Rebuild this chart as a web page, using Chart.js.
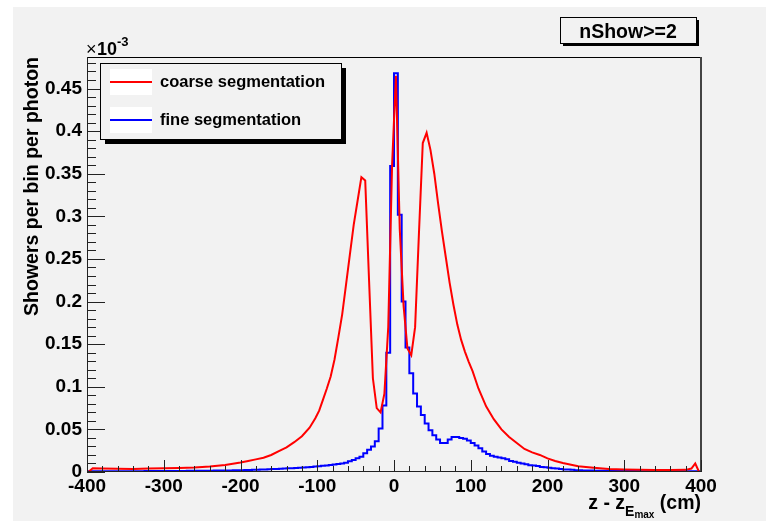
<!DOCTYPE html>
<html>
<head>
<meta charset="utf-8">
<script src="https://cdn.jsdelivr.net/npm/chart.js@4.4.1/dist/chart.umd.min.js"></script>
<style>
  html, body { margin: 0; padding: 0; background: #fff; }
  canvas { display: block; }
</style>
</head>
<body>
<canvas id="zChart" width="766" height="521"></canvas>
<script>
// --- Dados (em unidades de 1e-3) ---
const seriesNames = ["coarse segmentation", "fine segmentation"];
const seriesColors = ["#ff0000", "#0000ff"];

// coarse: polyline through points
const coarseX = [-397.5, -392.5, -380, -360, -340, -320, -300, -280, -260, -240, -220, -200, -190, -180, -170, -160, -150, -140, -130, -120, -110,
  -102.5, -97.5, -92.5, -87.5, -82.5, -77.5, -72.5, -67.5, -62.5, -57.5, -52.5, -47.5, -42.5, -37.5, -32.5, -27.5, -22.5, -17.5, -12.5, -7.5, -2.5,
  2.5, 7.5, 12.5, 17.5, 22.5, 27.5, 32.5, 37.5, 42.5, 47.5, 52.5, 57.5, 62.5, 67.5, 72.5, 77.5, 82.5, 87.5, 92.5, 97.5, 102.5,
  110, 120, 130, 140, 150, 160, 170, 180, 190, 200, 210, 220, 240, 260, 280, 300, 320, 340, 360, 380, 387.5, 392.5, 397.5];
const coarseY = [0.0005, 0.0045, 0.0042, 0.0038, 0.0036, 0.004, 0.0043, 0.0047, 0.0054, 0.0065, 0.0083, 0.0112, 0.013, 0.0148, 0.0168, 0.020, 0.0245, 0.029, 0.035, 0.042, 0.052,
  0.063, 0.072, 0.085, 0.098, 0.112, 0.132, 0.158, 0.185, 0.220, 0.255, 0.290, 0.318, 0.346, 0.342, 0.225, 0.110, 0.075, 0.070, 0.092, 0.170, 0.360,
  0.465, 0.285, 0.195, 0.145, 0.137, 0.170, 0.280, 0.386, 0.398, 0.378, 0.350, 0.315, 0.282, 0.252, 0.222, 0.196, 0.173, 0.155, 0.141, 0.129, 0.118,
  0.098, 0.077, 0.062, 0.050, 0.041, 0.034, 0.027, 0.023, 0.020, 0.016, 0.013, 0.0105, 0.0068, 0.005, 0.0036, 0.003, 0.0026, 0.0024, 0.0024, 0.0025, 0.004, 0.010, 0.0];

// fine: histogram, 5 cm bins from -400 to 400
const fineStart = -400;
const fineBinWidth = 5;
const fineY = [
  0.0008, 0.0008, 0.0008, 0.0008, 0.0008, 0.0009, 0.0009, 0.0009, 0.0009, 0.0009,
  0.001, 0.001, 0.001, 0.001, 0.001, 0.0011, 0.0011, 0.0011, 0.0011, 0.0011,
  0.0012, 0.0012, 0.0012, 0.0013, 0.0013, 0.0013, 0.0014, 0.0014, 0.0014, 0.0015,
  0.0015, 0.0016, 0.0016, 0.0017, 0.0017, 0.0018, 0.0019, 0.0019, 0.002, 0.0021,
  0.0022, 0.0023, 0.0024, 0.0026, 0.0027, 0.0029, 0.003, 0.0032, 0.0034, 0.0036,
  0.0038, 0.004, 0.0043, 0.0045, 0.0048, 0.005, 0.0053, 0.0056, 0.006, 0.0064,
  0.0068, 0.0072, 0.0077, 0.0082, 0.0088, 0.0094, 0.010, 0.011, 0.0125, 0.014,
  0.016, 0.018, 0.022, 0.026, 0.030, 0.036, 0.051, 0.078, 0.140, 0.359,
  0.468, 0.302, 0.200, 0.146, 0.116, 0.092, 0.077, 0.067, 0.057, 0.049,
  0.043, 0.038, 0.034, 0.034, 0.038, 0.041, 0.041, 0.040, 0.039, 0.037,
  0.034, 0.031, 0.028, 0.024, 0.021, 0.019, 0.018, 0.017, 0.016, 0.015,
  0.013, 0.012, 0.011, 0.010, 0.009, 0.008, 0.0075, 0.007, 0.006, 0.0055,
  0.005, 0.0045, 0.004, 0.0035, 0.003, 0.0028, 0.0025, 0.0022, 0.002, 0.0019,
  0.0018, 0.0017, 0.0016, 0.0015, 0.0014, 0.0014, 0.0013, 0.0013, 0.0012, 0.0012,
  0.0012, 0.0011, 0.0011, 0.0011, 0.001, 0.001, 0.001, 0.001, 0.001, 0.001,
  0.0009, 0.0009, 0.0009, 0.0009, 0.0009, 0.0008, 0.0008, 0.0008, 0.0008, 0.0008
];

const xMin = -400, xMax = 400, xStep = 100, xMinorStep = 20;
const yMin = 0, yMax = 0.487, yStep = 0.05, yMinorStep = 0.01;
const xTitle = ["z - z", "E", "max", " (cm)"];
const yTitle = "Showers per bin per photon";
const yExponent = "-3";
const cutLabel = "nShow>=2";

const FONT = "'Liberation Sans', Arial, Helvetica, sans-serif";

// monta os pontos
const coarseData = coarseX.map((x, i) => ({ x: x, y: coarseY[i] }));
const fineData = fineY.map((v, i) => ({ x: fineStart + i * fineBinWidth, y: v }));
fineData.push({ x: fineStart + fineY.length * fineBinWidth, y: fineY[fineY.length - 1] });

// --- desenho estilo ROOT ---
const rootStyle = {
  id: "rootStyle",
  beforeDraw(chart) {
    const ctx = chart.ctx;
    ctx.save();
    ctx.fillStyle = "#ffffff";
    ctx.fillRect(0, 0, chart.width, chart.height);
    ctx.fillStyle = "#f2f2f2";
    ctx.fillRect(13, 7, chart.width - 13, chart.height - 7);
    ctx.restore();
  },
  afterDatasetsDraw(chart) {
    const ctx = chart.ctx;
    const a = chart.chartArea;
    const xs = chart.scales.x, ys = chart.scales.y;
    ctx.save();

    // moldura
    ctx.strokeStyle = "#000";
    ctx.lineWidth = 1;
    ctx.beginPath();
    ctx.moveTo(a.left, a.top + 0.5);
    ctx.lineTo(a.right, a.top + 0.5);
    ctx.stroke();
    ctx.strokeStyle = "#444";
    ctx.lineWidth = 2;
    ctx.beginPath();
    ctx.moveTo(a.right, a.top);
    ctx.lineTo(a.right, a.bottom);
    ctx.stroke();

    // eixos
    ctx.strokeStyle = "#222";
    ctx.lineWidth = 1;
    ctx.beginPath();
    ctx.moveTo(a.left + 0.5, a.top);
    ctx.lineTo(a.left + 0.5, a.bottom);
    ctx.moveTo(a.left, a.bottom - 0.5);
    ctx.lineTo(a.right, a.bottom - 0.5);
    ctx.stroke();

    // marcas do eixo x
    ctx.beginPath();
    const nx = Math.round((xMax - xMin) / xMinorStep);
    for (let i = 0; i <= nx; i++) {
      const v = xMin + i * xMinorStep;
      const px = Math.round(xs.getPixelForValue(v)) + 0.5;
      const len = (v % xStep === 0) ? 12 : 6;
      ctx.moveTo(px, a.bottom);
      ctx.lineTo(px, a.bottom - len);
    }
    // marcas do eixo y
    const ny = Math.floor((yMax - yMin) / yMinorStep + 1e-6);
    for (let i = 0; i <= ny; i++) {
      const v = yMin + i * yMinorStep;
      const py = Math.round(ys.getPixelForValue(v)) + 0.5;
      const len = (i % 5 === 0) ? 18 : 9;
      ctx.moveTo(a.left, py);
      ctx.lineTo(a.left + len, py);
    }
    ctx.stroke();

    // x10^-3
    ctx.fillStyle = "#000";
    ctx.textBaseline = "alphabetic";
    ctx.textAlign = "left";
    ctx.font = "18px " + FONT;
    ctx.fillText("\u00d7", a.left - 1, 55);
    ctx.font = "bold 18px " + FONT;
    ctx.fillText("10", a.left + 10, 55);
    ctx.font = "bold 13px " + FONT;
    ctx.fillText(yExponent, a.left + 30, 46);

    // titulo do eixo y
    ctx.save();
    ctx.translate(38, a.top);
    ctx.rotate(-Math.PI / 2);
    ctx.textAlign = "right";
    ctx.font = "bold 19.5px " + FONT;
    ctx.fillText(yTitle, 0, 0);
    ctx.restore();

    // titulo do eixo x (com subscrito)
    const parts = [
      { t: xTitle[0], f: "bold 19.5px " + FONT, dy: 0 },
      { t: xTitle[1], f: "bold 14px " + FONT, dy: 7 },
      { t: xTitle[2], f: "bold 10px " + FONT, dy: 9 },
      { t: xTitle[3], f: "bold 19.5px " + FONT, dy: 0 }
    ];
    let total = 0;
    parts.forEach((p) => { ctx.font = p.f; p.w = ctx.measureText(p.t).width; total += p.w; });
    let cx = a.right - total;
    const base = 509;
    parts.forEach((p) => {
      ctx.font = p.f;
      ctx.fillText(p.t, cx, base + p.dy);
      cx += p.w;
    });

    // legenda
    const lx = 100, ly = 63, lw = 241, lh = 76;
    ctx.fillStyle = "#000";
    ctx.fillRect(lx + 5, ly + 5, lw, lh);
    ctx.fillStyle = "#f2f2f2";
    ctx.fillRect(lx, ly, lw, lh);
    ctx.strokeStyle = "#000";
    ctx.lineWidth = 1;
    ctx.strokeRect(lx + 0.5, ly + 0.5, lw, lh);
    chart.data.datasets.forEach((ds, i) => {
      const yy = 82 + i * 38;
      ctx.fillStyle = "#ffffff";
      ctx.fillRect(110, yy - 13, 42, 26);
      ctx.strokeStyle = ds.borderColor;
      ctx.lineWidth = 2;
      ctx.beginPath();
      ctx.moveTo(110, yy);
      ctx.lineTo(152, yy);
      ctx.stroke();
      ctx.fillStyle = "#000";
      ctx.font = "bold 16.5px " + FONT;
      ctx.textAlign = "left";
      ctx.fillText(ds.label, 160, yy + 5);
    });

    // caixa nShow
    const bx = 560, by = 17, bw = 136, bh = 26;
    ctx.fillStyle = "#000";
    ctx.fillRect(bx + 3, by + 3, bw, bh);
    ctx.fillStyle = "#f2f2f2";
    ctx.fillRect(bx, by, bw, bh);
    ctx.strokeStyle = "#000";
    ctx.lineWidth = 1;
    ctx.strokeRect(bx + 0.5, by + 0.5, bw, bh);
    ctx.fillStyle = "#000";
    ctx.font = "bold 19.5px " + FONT;
    ctx.textAlign = "center";
    ctx.fillText(cutLabel, bx + bw / 2, 38);

    ctx.restore();
  }
};

const ctx = document.getElementById("zChart").getContext("2d");
new Chart(ctx, {
  type: "line",
  data: {
    datasets: [
      {
        label: seriesNames[0],
        data: coarseData,
        borderColor: seriesColors[0],
        borderWidth: 2,
        pointRadius: 0,
        tension: 0,
        fill: false
      },
      {
        label: seriesNames[1],
        data: fineData,
        borderColor: seriesColors[1],
        borderWidth: 2,
        pointRadius: 0,
        stepped: "before",
        fill: false
      }
    ]
  },
  options: {
    responsive: false,
    animation: false,
    devicePixelRatio: 1,
    layout: { padding: { left: 0, top: 57, right: 65, bottom: 0 } },
    plugins: { legend: { display: false }, tooltip: { enabled: false } },
    scales: {
      x: {
        type: "linear",
        min: xMin,
        max: xMax,
        grid: { display: false, drawTicks: false },
        border: { display: false },
        ticks: {
          stepSize: xStep,
          autoSkip: false,
          maxRotation: 0,
          includeBounds: false,
          padding: 3,
          color: "#000",
          font: { family: FONT, size: 19, weight: "bold" }
        },
        afterFit: (s) => { s.height = 49; }
      },
      y: {
        type: "linear",
        min: yMin,
        max: yMax,
        grid: { display: false, drawTicks: false },
        border: { display: false },
        ticks: {
          stepSize: yStep,
          includeBounds: false,
          padding: 5,
          color: "#000",
          font: { family: FONT, size: 19, weight: "bold" },
          callback: (v) => String(Number(v.toFixed(2)))
        },
        afterFit: (s) => { s.width = 87; }
      }
    }
  },
  plugins: [rootStyle]
});
</script>
</body>
</html>
